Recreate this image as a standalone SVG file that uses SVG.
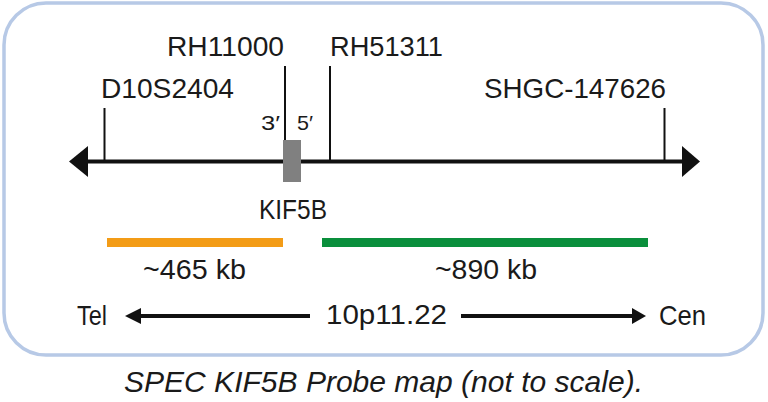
<svg xmlns="http://www.w3.org/2000/svg" width="768" height="402" viewBox="0 0 768 402">
<style>
  text { font-family: "Liberation Sans", Arial, sans-serif; fill: #1a1a1a; }
  .lbl { font-size: 28px; }
  .sm { font-size: 21px; }
  .cap { font-size: 30px; font-style: italic; }
  .tick { stroke: #111; stroke-width: 2; fill: none; }
  .axis { stroke: #111; stroke-width: 4; fill: none; }
  .head { fill: #111; }
</style>
<rect id="frame" x="4" y="3" width="759" height="352" rx="42" ry="42" fill="#fff" stroke="#b7c9e6" stroke-width="3.5"/>

<g id="connectors">
  <line class="axis" x1="86" y1="161.5" x2="684" y2="161.5"/>
  <polygon class="head" points="69,161.5 88,146 88,177"/>
  <polygon class="head" points="700,161.5 682,146 682,177"/>
  <line class="tick" x1="104.5" y1="108" x2="104.5" y2="161"/>
  <line class="tick" x1="285" y1="66" x2="285" y2="141"/>
  <line class="tick" x1="330" y1="66" x2="330" y2="161"/>
  <line class="tick" x1="664.5" y1="108" x2="664.5" y2="161"/>
  <line class="axis" x1="139" y1="316" x2="310" y2="316"/>
  <polygon class="head" points="125,316 141,308 141,324"/>
  <line class="axis" x1="461" y1="316" x2="634" y2="316"/>
  <polygon class="head" points="646,316 632,308 632,324"/>
</g>

<g id="D10S2404"><text class="lbl" x="101" y="98" textLength="133" lengthAdjust="spacingAndGlyphs">D10S2404</text></g>
<g id="RH11000"><text class="lbl" x="167" y="56" textLength="117" lengthAdjust="spacingAndGlyphs">RH11000</text></g>
<g id="RH51311"><text class="lbl" x="330" y="56" textLength="113" lengthAdjust="spacingAndGlyphs">RH51311</text></g>
<g id="SHGC-147626"><text class="lbl" x="484" y="98" textLength="182" lengthAdjust="spacingAndGlyphs">SHGC-147626</text></g>

<g id="KIF5B">
  <rect x="283" y="140" width="18" height="42" fill="#808080"/>
  <text class="sm" x="261" y="130" textLength="19" lengthAdjust="spacingAndGlyphs">3′</text>
  <text class="sm" x="297" y="130" textLength="16" lengthAdjust="spacingAndGlyphs">5′</text>
  <text class="lbl" x="259" y="219" textLength="68" lengthAdjust="spacingAndGlyphs">KIF5B</text>
</g>

<g id="probe-orange">
  <rect x="107" y="238" width="176" height="9" fill="#f39c17"/>
  <text class="lbl" x="143" y="279" textLength="103" lengthAdjust="spacingAndGlyphs">~465 kb</text>
</g>
<g id="probe-green">
  <rect x="322" y="238" width="326" height="9" fill="#0a8f3c"/>
  <text class="lbl" x="435" y="279" textLength="102" lengthAdjust="spacingAndGlyphs">~890 kb</text>
</g>

<g id="Tel"><text class="lbl" x="77" y="325" textLength="30" lengthAdjust="spacingAndGlyphs">Tel</text></g>
<g id="band"><text class="lbl" x="326" y="324" textLength="121" lengthAdjust="spacingAndGlyphs">10p11.22</text></g>
<g id="Cen"><text class="lbl" x="659" y="325" textLength="47" lengthAdjust="spacingAndGlyphs">Cen</text></g>

<g id="caption"><text class="cap" x="124" y="392" textLength="519" lengthAdjust="spacingAndGlyphs">SPEC KIF5B Probe map (not to scale).</text></g>
</svg>
